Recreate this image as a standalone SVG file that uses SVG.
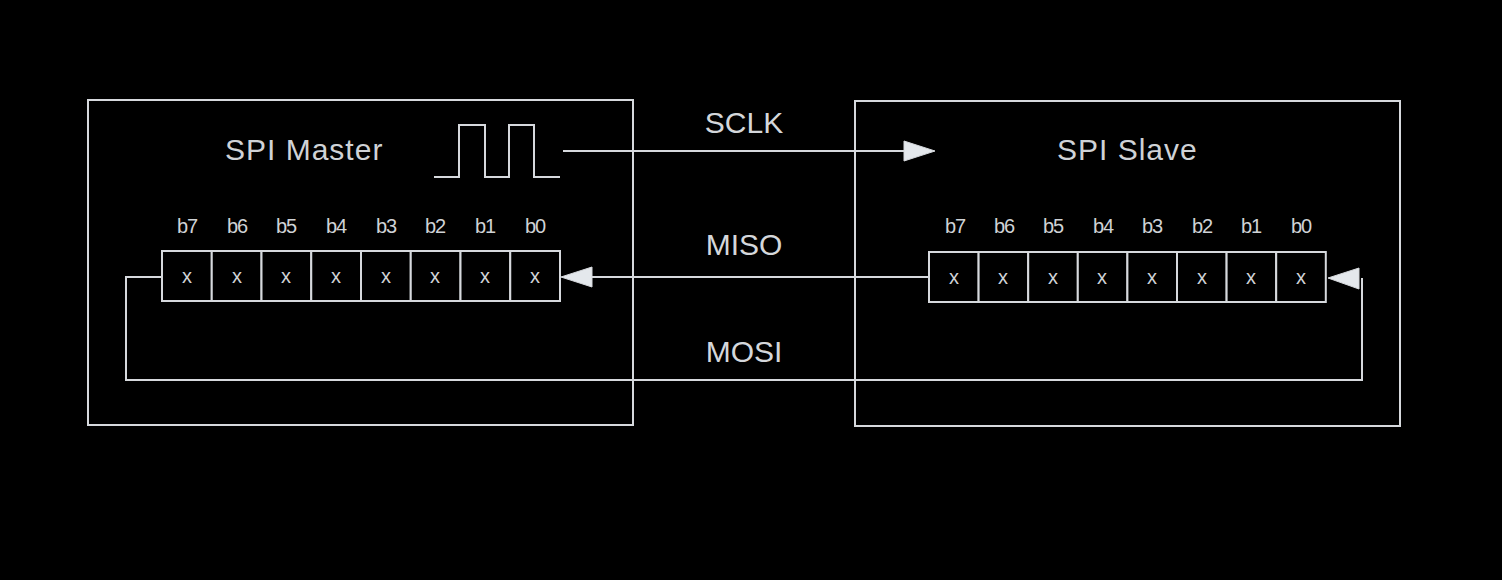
<svg xmlns="http://www.w3.org/2000/svg" width="1502" height="580" viewBox="0 0 1502 580">
<style>
.bg{fill:#000}
.box{fill:none;stroke:#d6d9dd;stroke-width:2}
.cell{fill:#000;stroke:#d6d9dd;stroke-width:2}
.wire{fill:none;stroke:#d6d9dd;stroke-width:2}
.title{font-family:"Liberation Sans",Arial,sans-serif;font-size:30px;fill:#cfd2d6;letter-spacing:1px}
.sig{font-family:"Liberation Sans",Arial,sans-serif;font-size:30px;fill:#d4d7db;text-anchor:middle}
.bit{font-family:"Liberation Sans",Arial,sans-serif;font-size:20px;fill:#cfd2d6;text-anchor:middle;letter-spacing:-1px}
.x{font-family:"Liberation Sans",Arial,sans-serif;font-size:20px;fill:#cfd2d6;text-anchor:middle}
.head{fill:#e4e8ec;stroke:#d6d9dd;stroke-width:1}
</style>
<rect class="bg" x="0" y="0" width="1502" height="580"/>

<g id="master">
<rect class="box" x="88" y="100" width="545" height="325"/>
<text class="title" x="225" y="160">SPI Master</text>
<polyline class="wire" points="434,177 459,177 459,125 485,125 485,177 509,177 509,125 534,125 534,177 560,177"/>
<g id="master-register">
<rect class="cell" x="162" y="251" width="49.75" height="50"/>
<rect class="cell" x="211.75" y="251" width="49.75" height="50"/>
<rect class="cell" x="261.5" y="251" width="49.75" height="50"/>
<rect class="cell" x="311.25" y="251" width="49.75" height="50"/>
<rect class="cell" x="361" y="251" width="49.75" height="50"/>
<rect class="cell" x="410.75" y="251" width="49.75" height="50"/>
<rect class="cell" x="460.5" y="251" width="49.75" height="50"/>
<rect class="cell" x="510.25" y="251" width="49.75" height="50"/>
<text class="bit" x="187" y="233">b7</text>
<text class="bit" x="237" y="233">b6</text>
<text class="bit" x="286" y="233">b5</text>
<text class="bit" x="336" y="233">b4</text>
<text class="bit" x="386" y="233">b3</text>
<text class="bit" x="435" y="233">b2</text>
<text class="bit" x="485" y="233">b1</text>
<text class="bit" x="535" y="233">b0</text>
<text class="x" x="187" y="283">x</text>
<text class="x" x="237" y="283">x</text>
<text class="x" x="286" y="283">x</text>
<text class="x" x="336" y="283">x</text>
<text class="x" x="386" y="283">x</text>
<text class="x" x="435" y="283">x</text>
<text class="x" x="485" y="283">x</text>
<text class="x" x="535" y="283">x</text>
</g>
</g>

<g id="slave">
<rect class="box" x="855" y="101" width="545" height="325"/>
<text class="title" x="1057" y="160">SPI Slave</text>
<g id="slave-register">
<rect class="cell" x="929" y="252" width="49.6" height="50"/>
<rect class="cell" x="978.6" y="252" width="49.6" height="50"/>
<rect class="cell" x="1028.2" y="252" width="49.6" height="50"/>
<rect class="cell" x="1077.8" y="252" width="49.6" height="50"/>
<rect class="cell" x="1127.4" y="252" width="49.6" height="50"/>
<rect class="cell" x="1177" y="252" width="49.6" height="50"/>
<rect class="cell" x="1226.6" y="252" width="49.6" height="50"/>
<rect class="cell" x="1276.2" y="252" width="49.6" height="50"/>
<text class="bit" x="955" y="233">b7</text>
<text class="bit" x="1004" y="233">b6</text>
<text class="bit" x="1053" y="233">b5</text>
<text class="bit" x="1103" y="233">b4</text>
<text class="bit" x="1152" y="233">b3</text>
<text class="bit" x="1202" y="233">b2</text>
<text class="bit" x="1251" y="233">b1</text>
<text class="bit" x="1301" y="233">b0</text>
<text class="x" x="954" y="284">x</text>
<text class="x" x="1003" y="284">x</text>
<text class="x" x="1053" y="284">x</text>
<text class="x" x="1102" y="284">x</text>
<text class="x" x="1152" y="284">x</text>
<text class="x" x="1202" y="284">x</text>
<text class="x" x="1251" y="284">x</text>
<text class="x" x="1301" y="284">x</text>
</g>
</g>

<g id="connectors">
<line class="wire" x1="563" y1="151" x2="904" y2="151"/>
<polygon class="head" points="904,141 935,151 904,161"/>
<text class="sig" x="744" y="133">SCLK</text>

<line class="wire" x1="929" y1="277" x2="591" y2="277"/>
<polygon class="head" points="592,267 561,277 592,287"/>
<text class="sig" x="744" y="255">MISO</text>

<polyline class="wire" points="162,277 126,277 126,380 1362,380 1362,278"/>
<polygon class="head" points="1359,268 1328,278 1359,289"/>
<text class="sig" x="744" y="362">MOSI</text>
</g>
</svg>
